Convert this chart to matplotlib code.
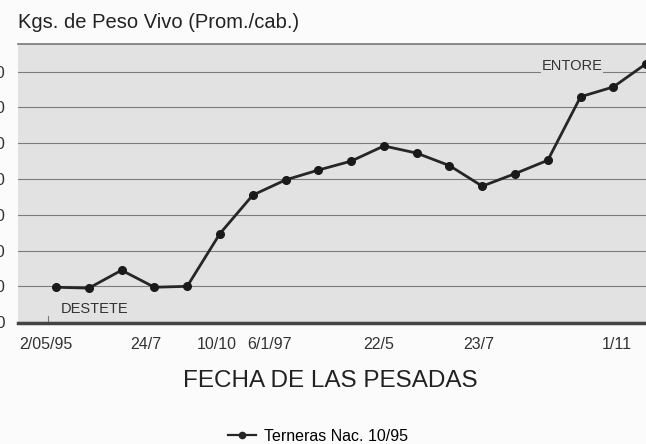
import matplotlib
matplotlib.use("Agg")
import matplotlib.pyplot as plt
from matplotlib.lines import Line2D

# ---- data ----
weights = [119, 118, 138, 119, 120, 179, 222, 239, 250, 260, 277, 269, 255, 232, 246, 261, 332, 343, 369]
tick_labels = ["2/05/95", "24/7", "10/10", "6/1/97", "22/5", "23/7", "1/11"]
tick_pos = [-0.3, 2.75, 4.9, 6.5, 9.85, 12.9, 17.1]
y_ticks = [80, 120, 160, 200, 240, 280, 320, 360]
series_name = "Terneras Nac. 10/95"
title = "Kgs. de Peso Vivo (Prom./cab.)"
xlabel = "FECHA DE LAS PESADAS"

FONT = ["Liberation Sans", "DejaVu Sans"]
plt.rcParams['font.family'] = FONT

fig = plt.figure(figsize=(6.46, 4.44), dpi=100)
fig.patch.set_facecolor("#fbfbfb")
ax = fig.add_axes([18/646, 1-323/444, (656-18)/646, (323-44)/444])
ax.set_facecolor("#e2e2e2")

x = list(range(len(weights)))
ax.plot(x, weights, color="#262626", lw=2.0, marker="o", ms=5.5, mfc="#1a1a1a", mec="#1a1a1a", zorder=3)

ax.set_xlim(-1.16, 18.3)
ax.set_ylim(79, 391)
ax.set_yticks(y_ticks)
ax.set_yticklabels([str(v) for v in y_ticks], fontsize=12, color="#333333")
ax.tick_params(axis="y", length=0, pad=9)
ax.grid(axis="y", color="#5a5a5a", lw=0.8, alpha=0.75)
ax.set_axisbelow(True)

ax.set_xticks(tick_pos)
ax.set_xticklabels(tick_labels, fontsize=11.5, color="#333333")
ax.tick_params(axis="x", length=0, pad=10)

for s in ["left", "right"]:
    ax.spines[s].set_visible(False)
ax.spines["top"].set_color("#777777")
ax.spines["top"].set_linewidth(1.2)
ax.spines["bottom"].set_color("#444444")
ax.spines["bottom"].set_linewidth(2.5)

# small tick near start
ax.plot([-0.25, -0.25], [79, 87], color="#777777", lw=0.8, clip_on=False)

ax.text(0.15, 95, "DESTETE", fontsize=10.5, color="#333333", ha="left", va="center")
ax.text(14.8, 366, "ENTORE", fontsize=10.5, color="#333333", ha="left", va="center",
        bbox=dict(facecolor="#e2e2e2", edgecolor="none", pad=0.5))

fig.text(18/646, 1-22/444, title, fontsize=14.5, color="#222222", ha="left", va="center")
fig.text(330/646, 1-381/444, xlabel, fontsize=17.5, color="#222222", ha="center", va="center")

handle = Line2D([], [], color="#262626", lw=1.6, marker="o", ms=4.5)
fig.legend([handle], [series_name], loc="center", bbox_to_anchor=(318/646, 1-436/444),
           frameon=False, fontsize=11.5, handlelength=1.8, handletextpad=0.5)

fig.savefig("out.png", dpi=100, facecolor=fig.get_facecolor())
